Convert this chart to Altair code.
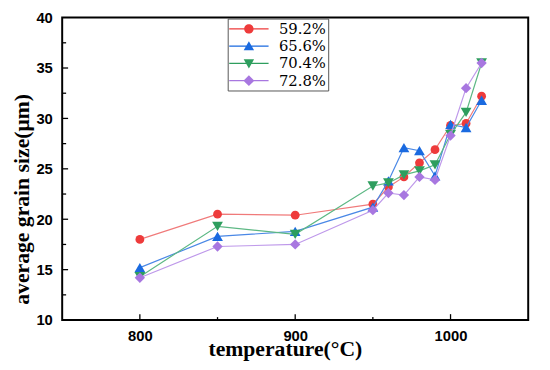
import altair as alt
import pandas as pd

# ---- data ----
temperatures = [800, 850, 900, 950, 960, 970, 980, 990, 1000, 1010, 1020]
series_names = ["59.2%", "65.6%", "70.4%", "72.8%"]
grain_59 = [18.0, 20.5, 20.4, 21.5, 23.2, 24.2, 25.6, 26.9, 29.3, 29.5, 32.2]
grain_65 = [15.2, 18.3, 18.8, 21.2, 23.8, 27.1, 26.8, 24.3, 29.4, 29.1, 31.8]
grain_70 = [14.3, 19.3, 18.5, 23.3, 23.6, 24.4, 24.8, 25.4, 28.4, 30.6, 35.5]
grain_72 = [14.2, 17.3, 17.5, 20.9, 22.6, 22.4, 24.2, 23.9, 28.3, 33.0, 35.5]
all_series = [grain_59, grain_65, grain_70, grain_72]

x_major = [800, 900, 1000]
x_minor = [850, 950]
y_labels = [10, 15, 20, 25, 30, 35, 40]
y_major = [15, 20, 25, 30, 35]
y_minor = [12.5, 17.5, 22.5, 27.5, 32.5, 37.5]

# ---- styles ----
marker_colors = ["#EE3B3B", "#1A6AE0", "#2E9E5E", "#A877E0"]
line_colors = ["#F07A7A", "#4A88E6", "#5DB884", "#BE98EA"]
marker_shapes = ["circle", "triangle-up", "triangle-down", "diamond"]
marker_sizes = [80, 120, 120, 110]

seg = "M-2.35,-0.07H2.35V0.07H-2.35Z"
legend_paths = [
    seg + "M0,-0.56A0.56,0.56 0 1,1 0,0.56A0.56,0.56 0 1,1 0,-0.56Z",
    seg + "M0,-0.6L0.62,0.5L-0.62,0.5Z",
    seg + "M0,0.6L-0.62,-0.5L0.62,-0.5Z",
    seg + "M0,-0.65L0.65,0L0,0.65L-0.65,0Z",
]

W, H = 473, 307
x_scale = alt.Scale(domain=[750, 1050], nice=False, zero=False)
y_scale = alt.Scale(domain=[10, 40], nice=False, zero=False)

x_axis = alt.Axis(
    title="temperature(°C)", values=x_major, format="d", ticks=False, domain=False,
    grid=False, labelFont="Liberation Sans", labelFontWeight="bold", labelFontSize=15,
    labelColor="black", labelPadding=9, labelOverlap=False, labelFlush=False,
    titleFont="Liberation Serif", titleFontWeight="bold", titleFontSize=22,
    titleColor="black", titleX=226, titleY=36, titleBaseline="alphabetic",
)
y_axis = alt.Axis(
    title="average grain size(μm)", values=y_labels, format="d", ticks=False,
    domain=False, grid=False, labelFont="Liberation Sans", labelFontWeight="bold",
    labelFontSize=15, labelColor="black", labelPadding=10, labelOverlap=False,
    titleFont="Liberation Serif", titleFontWeight="bold", titleFontSize=22,
    titleColor="black", titleX=-41, titleY=184, titleBaseline="middle",
)

layers = []
for name, vals, lc, mc, shp, sz in zip(series_names, all_series, line_colors,
                                       marker_colors, marker_shapes, marker_sizes):
    df = pd.DataFrame({"temperature": temperatures, "size": vals, "series": name})
    base = alt.Chart(df).encode(
        x=alt.X("temperature:Q", scale=x_scale, axis=x_axis),
        y=alt.Y("size:Q", scale=y_scale, axis=y_axis),
    )
    layers.append(base.mark_line(color=lc, strokeWidth=1.2))
    layers.append(base.mark_point(shape=shp, filled=True, size=sz, color=mc, opacity=1))

# inward ticks
xmaj = pd.DataFrame({"temperature": x_major})
xmin = pd.DataFrame({"temperature": x_minor})
ymaj = pd.DataFrame({"size": y_major})
ymin = pd.DataFrame({"size": y_minor})
tick_style = dict(color="black", strokeWidth=1.3)
layers.append(alt.Chart(xmaj).mark_rule(**tick_style).encode(
    x=alt.X("temperature:Q", scale=x_scale, axis=x_axis),
    y=alt.value(H), y2=alt.value(H - 6)))
layers.append(alt.Chart(xmin).mark_rule(**tick_style).encode(
    x=alt.X("temperature:Q", scale=x_scale, axis=x_axis),
    y=alt.value(H), y2=alt.value(H - 3)))
layers.append(alt.Chart(ymaj).mark_rule(**tick_style).encode(
    y=alt.Y("size:Q", scale=y_scale, axis=y_axis),
    x=alt.value(0), x2=alt.value(6)))
layers.append(alt.Chart(ymin).mark_rule(**tick_style).encode(
    y=alt.Y("size:Q", scale=y_scale, axis=y_axis),
    x=alt.value(0), x2=alt.value(4)))

# legend-only layer (draws no marks)
legend = alt.Legend(
    title=None, orient="none", legendX=168, legendY=1, padding=2,
    symbolSize=289, symbolOffset=11, labelOffset=22, symbolStrokeWidth=0,
    labelFont="DejaVu Serif", labelFontSize=15, labelColor="black",
    strokeColor="#555555", fillColor="white", rowPadding=0.5,
)
legend_df = pd.DataFrame({"series": series_names})
layers.append(
    alt.Chart(legend_df).mark_point(filled=True, opacity=1, size=289)
    .encode(
        color=alt.Color("series:N", scale=alt.Scale(domain=series_names, range=marker_colors), legend=legend),
        shape=alt.Shape("series:N", scale=alt.Scale(domain=series_names, range=legend_paths), legend=legend),
    )
    .transform_filter("false")
)

chart = (
    alt.layer(*layers)
    .properties(width=W, height=H, autosize="none",
                padding={"left": 55, "top": 7, "right": 14, "bottom": 52},
                background="white")
    .configure_view(stroke="black", strokeWidth=2)
)

chart.save("out.html", embed_options={"renderer": "svg", "actions": False})
